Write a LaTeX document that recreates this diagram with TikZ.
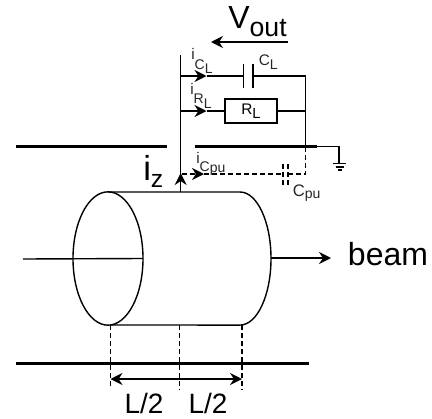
\documentclass[tikz,border=0pt]{standalone}
\usepackage{fontspec}
\setmainfont{Liberation Sans}
\usetikzlibrary{shapes.geometric, positioning, calc}
\usetikzlibrary{arrows.meta}
\tikzstyle{wire} = [line width=1.05pt, draw=black]
\tikzstyle{plate} = [line width=2.2pt, draw=black]
\tikzstyle{dashwire} = [line width=0.95pt, draw=black, dash pattern=on 3.6pt off 2.4pt]
\tikzstyle{arrow} = [line width=1.05pt, ->, >={Stealth[length=9pt,width=9pt]}]
\tikzstyle{arrowboth} = [line width=1.05pt, <->, >={Stealth[length=9pt,width=9pt]}]
\tikzstyle{biglabel} = [inner sep=0pt, font=\fontsize{24}{24}\selectfont]
\tikzstyle{smalllabel} = [inner sep=0pt, anchor=base west, text=black!85, font=\fontsize{11.5}{12}\selectfont]
\tikzstyle{resistor} = [rectangle, draw=black, line width=1.05pt, minimum width=39pt, minimum height=18pt, inner sep=0pt, font=\fontsize{11.5}{12}\selectfont]
\newcommand{\sublow}[3]{\raisebox{-#1}{\fontsize{#2}{#2}\selectfont #3}}

\begin{document}
\begin{tikzpicture}[x=0.75pt,y=-0.75pt]
	\useasboundingbox (0,0) rectangle (432,418);
	% plates
	\coordinate (pl1) at (16,146.5);
	\coordinate (pl2) at (167,146.5);
	\coordinate (pr1) at (195,146.5);
	\coordinate (pr2) at (317,146.5);
	\coordinate (pb1) at (16,363.5);
	\coordinate (pb2) at (309,363.5);
	\draw[plate] (pl1) -- (pl2);
	\draw[plate] (pr1) -- (pr2);
	\draw[plate] (pb1) -- (pb2);
	% cylinder
	\node (front) at (108,258.5) [ellipse, draw=black, line width=1.05pt, minimum width=52.5pt, minimum height=100pt, inner sep=0pt] {};
	\coordinate (tl) at (108,192);
	\coordinate (tr) at (240,192);
	\coordinate (bl) at (110,325);
	\coordinate (br) at (242,325);
	\draw[wire] (tl) -- (tr) arc[start angle=90,end angle=-90,x radius=23.25pt,y radius=49.9pt] -- (bl);
	% beam
	\coordinate (ax1) at (23,259);
	\coordinate (ax2) at (143,258.5);
	\coordinate (ax3) at (271,258);
	\coordinate (ax4) at (331,258);
	\draw[wire] (ax1) -- (ax2);
	\draw[arrow] (ax3) -- (ax4);
	\node[biglabel] (beam) at (388,254) {beam};
	% length marks
	\coordinate (m1) at (110.5,325);
	\coordinate (m2) at (179.5,325);
	\coordinate (m3) at (242,325);
	\coordinate (d1) at (110.5,388);
	\coordinate (d2) at (179.5,390);
	\coordinate (d3) at (242,390);
	\coordinate (w1) at (110.5,379);
	\coordinate (w2) at (242,379);
	\draw[dashwire] (m1) -- (d1);
	\draw[dashwire] (m2) -- (d2);
	\draw[dashwire] (m3) -- (d3);
	\draw[arrowboth] (w1) -- (w2);
	\node[biglabel,font=\fontsize{21}{21}\selectfont] (l1) at (144,403) {L/2};
	\node[biglabel,font=\fontsize{21}{21}\selectfont] (l2) at (208,403) {L/2};
	% readout
	\coordinate (top) at (180.7,55);
	\coordinate (cyl) at (180.7,192);
	\coordinate (iz) at (180.7,173);
	\coordinate (cl1) at (180.7,76);
	\coordinate (cl2) at (206.5,76);
	\coordinate (cl3) at (243.7,76);
	\coordinate (cl4) at (253,76);
	\coordinate (cl5) at (305.7,76);
	\coordinate (rl1) at (180.7,111);
	\coordinate (rl2) at (206.5,111);
	\coordinate (rl3) at (305.7,111);
	\coordinate (gnd) at (305.7,146.5);
	\node (rl) at (251,111) [resistor] {R\sublow{3pt}{11pt}{L}};
	\draw[wire] (top) -- (cyl);
	\draw[arrow] (cyl) -- (iz);
	\draw[arrow] (cl1) -- (cl2);
	\draw[wire] (cl2) -- (cl3);
	\draw[wire] (cl4) -- (cl5) -- (gnd);
	\draw[arrow] (rl1) -- (rl2);
	\draw[wire] (rl2) -- (rl);
	\draw[wire] (rl) -- (rl3);
	% capacitor
	\coordinate (c1a) at (243.7,64);
	\coordinate (c1b) at (243.7,88);
	\coordinate (c2a) at (253,64);
	\coordinate (c2b) at (253,88);
	\draw[wire] (c1a) -- (c1b);
	\draw[wire] (c2a) -- (c2b);
	% pick-up capacitance
	\coordinate (pu1) at (182,174);
	\coordinate (pu2) at (204,174);
	\coordinate (pu3) at (283,174);
	\coordinate (pu4) at (288,174);
	\coordinate (pu5) at (305.7,174);
	\coordinate (p1a) at (283,164);
	\coordinate (p1b) at (283,185);
	\coordinate (p2a) at (288,164);
	\coordinate (p2b) at (288,185);
	\draw[arrow,dash pattern=on 3.6pt off 2.4pt] (pu1) -- (pu2);
	\draw[dashwire] (pu2) -- (pu3);
	\draw[dashwire] (pu4) -- (pu5) -- (gnd);
	\draw[dashwire] (p1a) -- (p1b);
	\draw[dashwire] (p2a) -- (p2b);
	% ground
	\coordinate (g1) at (339,146.5);
	\coordinate (g2) at (339,163.5);
	\coordinate (g3a) at (333,163.5);
	\coordinate (g3b) at (346,163.5);
	\coordinate (g4a) at (335.5,167);
	\coordinate (g4b) at (343.5,167);
	\coordinate (g5a) at (337.5,170);
	\coordinate (g5b) at (341.5,170);
	\draw[wire] (pr2) -- (g1) -- (g2);
	\draw[wire] (g3a) -- (g3b);
	\draw[wire] (g4a) -- (g4b);
	\draw[wire] (g5a) -- (g5b);
	% labels
	\coordinate (v1) at (288,42);
	\coordinate (v2) at (211,42);
	\draw[arrow] (v1) -- (v2);
	\node[biglabel,anchor=base west] (vout) at (228,28) {V\sublow{6pt}{20pt}{out}};
	\node[biglabel,anchor=base west,font=\fontsize{26}{26}\selectfont] (izl) at (143,180) {i\sublow{5.25pt}{18.5pt}{z}};
	\node[smalllabel] (icl) at (191,59) {i\sublow{7.5pt}{10.5pt}{C}\sublow{11pt}{10.5pt}{L}};
	\node[smalllabel] (irl) at (190,94) {i\sublow{7pt}{10.5pt}{R}\sublow{10.5pt}{10.5pt}{L}};
	\node[smalllabel] (icpu) at (196,163) {i\sublow{6pt}{10.5pt}{C}\sublow{7pt}{10.5pt}{pu}};
	\node[smalllabel] (cll) at (258.5,65) {C\sublow{3pt}{10.5pt}{L}};
	\node[smalllabel,font=\fontsize{12.5}{13}\selectfont] (cpu) at (292.5,196) {C\sublow{2pt}{10.5pt}{pu}};
\end{tikzpicture}
\end{document}
